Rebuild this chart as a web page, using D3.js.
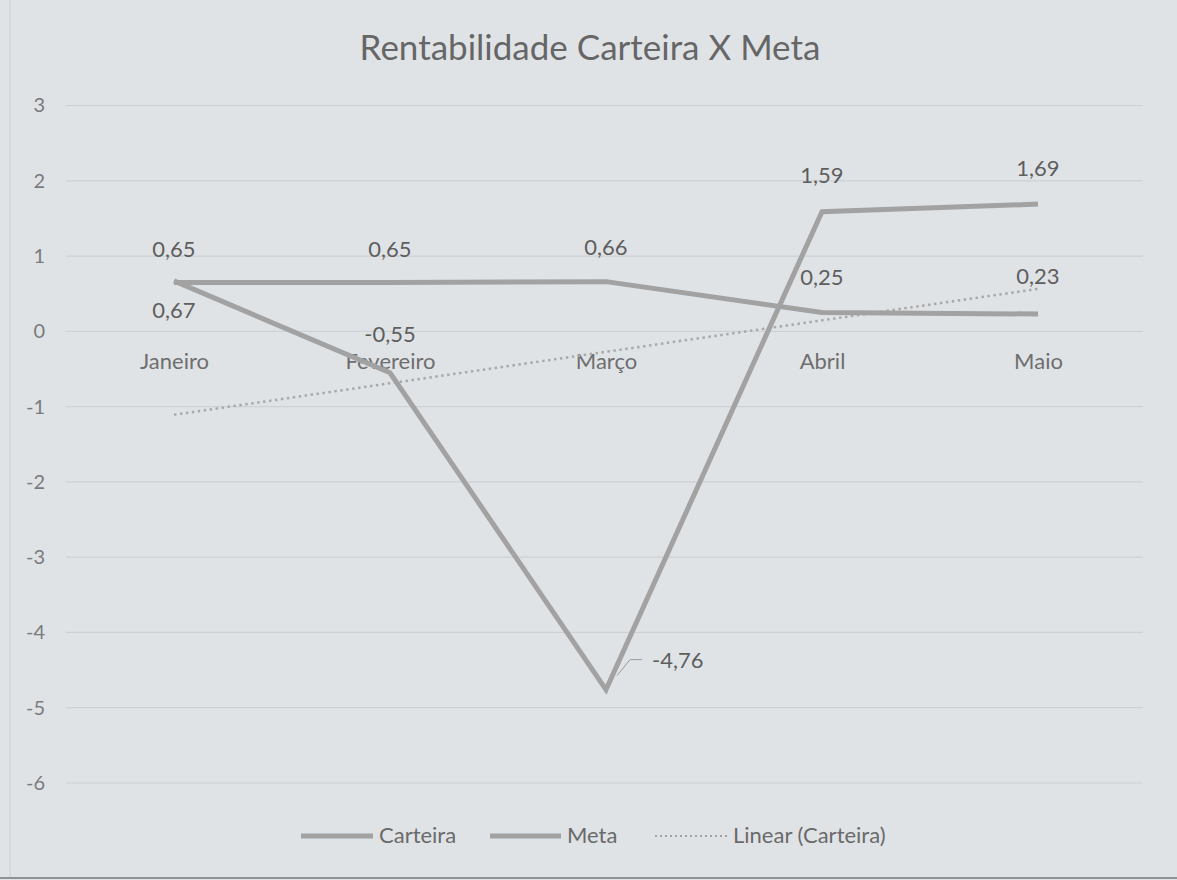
<!DOCTYPE html>
<html>
<head>
<meta charset="utf-8">
<script src="https://cdn.jsdelivr.net/npm/d3@7"></script>
<style>
  html, body { margin: 0; padding: 0; background: #e0e3e6; }
  svg { display: block; }
  text { font-family: Lato, "Open Sans", sans-serif; }
</style>
</head>
<body>
<svg id="chart" width="1177" height="880"></svg>
<script>
const categories = ["Janeiro", "Fevereiro", "Março", "Abril", "Maio"];
const carteira = [0.67, -0.55, -4.76, 1.59, 1.69];
const meta = [0.65, 0.65, 0.66, 0.25, 0.23];
const yTicks = [3, 2, 1, 0, -1, -2, -3, -4, -5, -6];
const titleText = "Rentabilidade Carteira X Meta";
const legendLabels = ["Carteira", "Meta", "Linear (Carteira)"];

const W = 1177, H = 880;
const svg = d3.select("#chart");

svg.append("rect").attr("x", 0).attr("y", 0).attr("width", W).attr("height", H).attr("fill", "#e0e3e6");
svg.append("line").attr("x1", 10).attr("x2", 10).attr("y1", 0).attr("y2", 878).attr("stroke", "#d2d6d9").attr("stroke-width", 1.5);
svg.append("line").attr("x1", 0).attr("x2", W).attr("y1", 878).attr("y2", 878).attr("stroke", "#8f9396").attr("stroke-width", 2);

const x = d3.scalePoint().domain(categories).range([66, 1146]).padding(0.5);
const y = d3.scaleLinear().domain([-6, 3]).range([783, 105.5]);

const fmt = v => (v < 0 ? "-" : "") + d3.format(".2f")(Math.abs(v)).replace(".", ",");

// gridlines
svg.append("g").selectAll("line").data(yTicks).join("line")
  .attr("x1", 66).attr("x2", 1143)
  .attr("y1", d => y(d)).attr("y2", d => y(d))
  .attr("stroke", "#cdd1d4").attr("stroke-width", 1.2);

// y axis labels
const yAxis = d3.axisLeft(y).tickValues(yTicks).tickSize(0).tickPadding(0)
  .tickFormat(d => (d < 0 ? "-" : "") + Math.abs(d));
const gy = svg.append("g").attr("transform", "translate(45,0)").call(yAxis);
gy.select(".domain").remove();
gy.selectAll("text").attr("fill", "#7b7b7b").style("font-size", "20px").style("font-family", "Lato, sans-serif");

// category axis at 0
const xAxis = d3.axisBottom(x).tickSize(0);
const gx = svg.append("g").attr("transform", `translate(0,${y(0)})`).call(xAxis);
gx.select(".domain").remove();
gx.selectAll("text").attr("y", 38).attr("dy", 0)
  .attr("fill", "#6e6e6e").style("font-size", "22px").style("font-family", "Lato, sans-serif");

// trendline (linear regression of Carteira)
const xs = categories.map((_, i) => i + 1);
const mx = d3.mean(xs), my = d3.mean(carteira);
const slope = d3.sum(xs.map((v, i) => (v - mx) * (carteira[i] - my))) / d3.sum(xs.map(v => (v - mx) ** 2));
const intercept = my - slope * mx;
const trend = xs.map(v => intercept + slope * v);

const line = d3.line().x((d, i) => x(categories[i])).y(d => y(d));

svg.append("path").datum(trend).attr("d", line)
  .attr("fill", "none").attr("stroke", "#a9a9a9").attr("stroke-width", 2.5)
  .attr("stroke-dasharray", "2.5,3.5");

svg.append("path").datum(meta).attr("d", line)
  .attr("fill", "none").attr("stroke", "#a2a2a2").attr("stroke-width", 5).attr("stroke-linejoin", "round");
svg.append("path").datum(carteira).attr("d", line)
  .attr("fill", "none").attr("stroke", "#a2a2a2").attr("stroke-width", 5).attr("stroke-linejoin", "miter");

// data labels
const labStyle = sel => sel.attr("fill", "#5e5e5e").style("font-size", "22px").attr("text-anchor", "middle");

const metaOffsets = [-25, -25, -27, -28, -30];
svg.append("g").selectAll("text").data(meta).join("text")
  .attr("x", (d, i) => x(categories[i]))
  .attr("y", (d, i) => y(d) + metaOffsets[i])
  .text(d => fmt(d)).call(labStyle);

const cartOffsets = [37, -31, null, -29, -28];
const cartIdx = [0, 1, 3, 4];
svg.append("g").selectAll("text").data(cartIdx).join("text")
  .attr("x", i => x(categories[i]))
  .attr("y", i => y(carteira[i]) + cartOffsets[i])
  .text(i => fmt(carteira[i])).call(labStyle);

// -4,76 label with leader line
const mx3 = x(categories[2]), my3 = y(carteira[2]);
svg.append("path")
  .attr("d", `M${mx3 + 11},${my3 - 14} L${mx3 + 24},${my3 - 30} L${mx3 + 36},${my3 - 30}`)
  .attr("fill", "none").attr("stroke", "#9a9a9a").attr("stroke-width", 1);
svg.append("text").attr("x", mx3 + 46).attr("y", my3 - 22).text(fmt(carteira[2]))
  .attr("fill", "#5e5e5e").style("font-size", "22px");

// title
svg.append("text").attr("x", 590).attr("y", 60).attr("text-anchor", "middle")
  .attr("fill", "#666").style("font-size", "35px").text(titleText);

// legend
const ly = 836;
const legend = [
  { label: legendLabels[0], x1: 301, x2: 373, dash: null },
  { label: legendLabels[1], x1: 490, x2: 561, dash: null },
  { label: legendLabels[2], x1: 655, x2: 727, dash: "2,3" }
];
const lg = svg.append("g");
legend.forEach(it => {
  lg.append("line").attr("x1", it.x1).attr("x2", it.x2).attr("y1", ly).attr("y2", ly)
    .attr("stroke", "#a2a2a2").attr("stroke-width", it.dash ? 2 : 5)
    .attr("stroke-dasharray", it.dash);
  lg.append("text").attr("x", it.x2 + 6).attr("y", ly + 7).text(it.label)
    .attr("fill", "#6a6a6a").style("font-size", "22px");
});
</script>
</body>
</html>
